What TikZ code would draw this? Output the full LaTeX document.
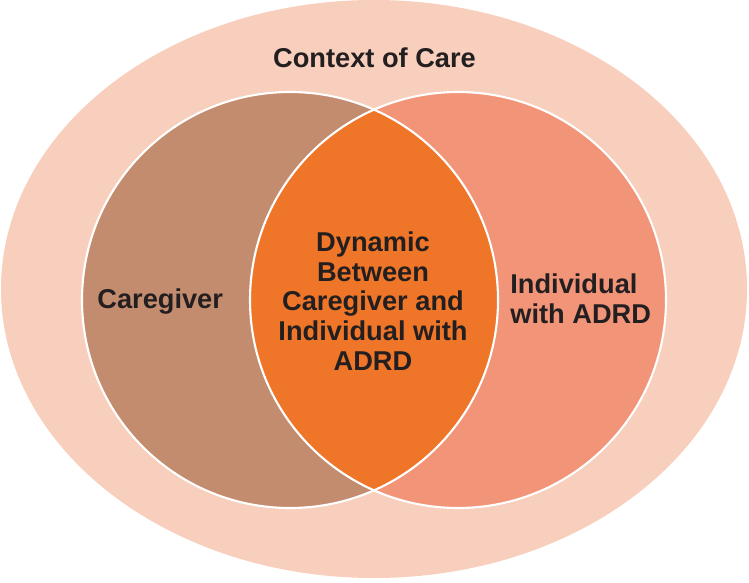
\documentclass[tikz,border=0pt]{standalone}
\usepackage{fontspec}
\setmainfont{Liberation Sans}
\usetikzlibrary{positioning}

\definecolor{carecontext}{HTML}{F7CFBC}
\definecolor{caregiverfill}{HTML}{C48C6E}
\definecolor{individualfill}{HTML}{F29478}
\definecolor{dynamicfill}{HTML}{EF7528}
\definecolor{labeltext}{HTML}{231F20}

\tikzset{
  label/.style={text=labeltext, inner sep=0pt, font=\fontsize{15.5}{16.9}\selectfont\bfseries},
  rim/.style={draw=white, line width=1.2pt}
}

\begin{document}
\begin{tikzpicture}[x=0.02cm, y=0.02cm]
\useasboundingbox (0,0) rectangle (749,582);
\coordinate (ctx) at (374,293);
\coordinate (cg) at (290,282);
\coordinate (ind) at (458,282);
% outer context
\fill[carecontext] (ctx) ellipse [x radius=373, y radius=289];
% the two circles and their overlap
\fill[caregiverfill] (cg) circle [radius=208];
\fill[individualfill] (ind) circle [radius=208];
\begin{scope}
\clip (cg) circle [radius=208];
\fill[dynamicfill] (ind) circle [radius=208];
\end{scope}
\path[rim] (cg) circle [radius=208];
\path[rim] (ind) circle [radius=208];
% labels
\node[label, anchor=base] (context) at (374.5,514) {Context of Care};
\node[label, anchor=base west] (caregiver) at (97,274) {Caregiver};
\node[label, align=center] (dynamic) at (373,281) {Dynamic\\Between\\Caregiver and\\Individual with\\ADRD};
\node[label, align=left, anchor=west] (individual) at (510,283) {Individual\\with ADRD};
\end{tikzpicture}
\end{document}
